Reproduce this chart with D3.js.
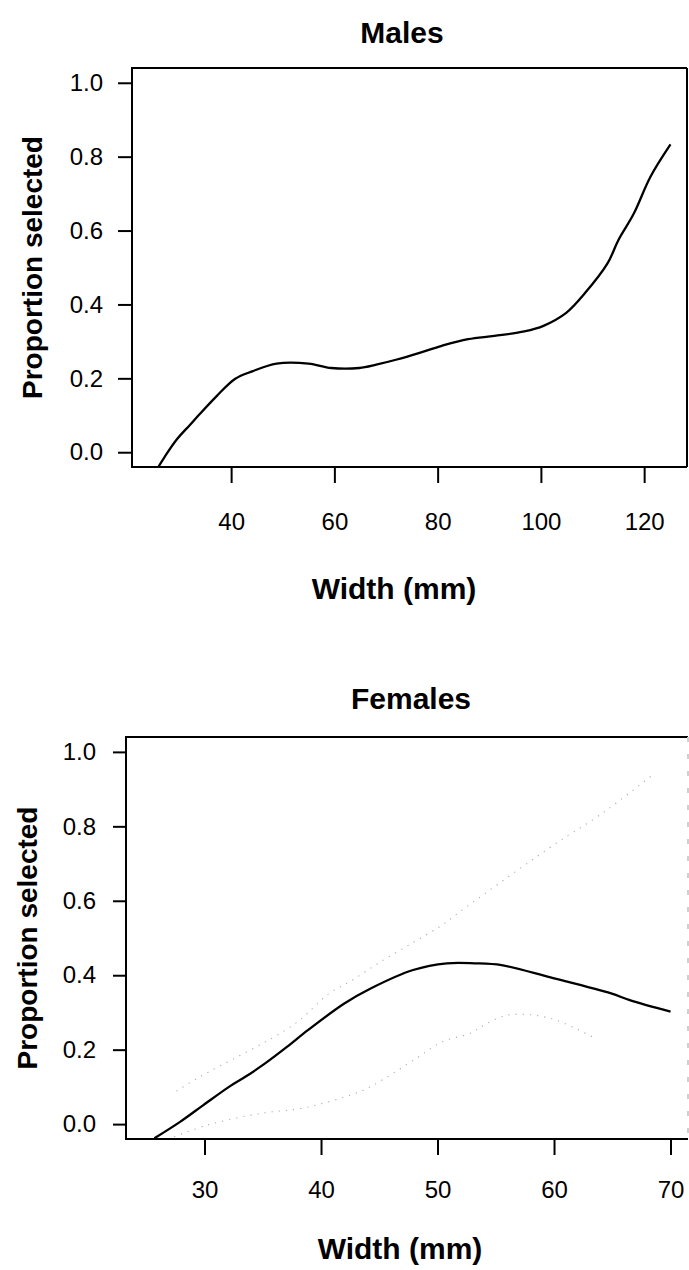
<!DOCTYPE html>
<html><head><meta charset="utf-8">
<script src="https://cdn.jsdelivr.net/npm/d3@7/dist/d3.min.js"></script>
<style>
html,body{margin:0;padding:0;background:#fff;}
svg{display:block;}
text{font-family:"Liberation Sans",Arial,sans-serif;fill:#000;}
</style></head>
<body>
<svg id="c" width="689" height="1270"></svg>
<script>
// ---- data ----
const panelTitles = ["Males", "Females"];
const xTitle = "Width (mm)";
const yTitle = "Proportion selected";
const yTicks = [0, 0.2, 0.4, 0.6, 0.8, 1.0];
const maleXTicks = [40, 60, 80, 100, 120];
const femaleXTicks = [30, 40, 50, 60, 70];

const maleWidth = [25.9, 27.1, 29.5, 32.1, 33.7, 37.2, 40.8, 44.1, 48.8, 55.0, 59.4, 64.8, 68.1, 72.1, 76.5, 80.8, 85.9, 91.0, 96.8, 100.5, 104.9, 108.5, 112.9, 115.0, 118.0, 121.2, 125.1];
const maleProp  = [-0.04, -0.013, 0.035, 0.075, 0.10, 0.152, 0.199, 0.219, 0.24, 0.24, 0.228, 0.228, 0.237, 0.251, 0.269, 0.288, 0.306, 0.315, 0.327, 0.342, 0.377, 0.43, 0.511, 0.574, 0.646, 0.745, 0.833];

const femaleWidth = [25.7, 27.9, 29.9, 32.1, 33.5, 35.2, 37.1, 38.9, 42.0, 44.3, 47.9, 50.8, 53.2, 55.5, 59.7, 64.9, 66.5, 70.0];
const femaleProp  = [-0.038, 0.006, 0.051, 0.10, 0.127, 0.163, 0.208, 0.253, 0.324, 0.365, 0.414, 0.432, 0.432, 0.427, 0.394, 0.351, 0.333, 0.302];

const femaleUpperWidth = [27.6, 29.6, 37.6, 40.7, 42.5, 44.9, 47.8, 50.4, 52.5, 60.4, 63.3, 65.4, 68.3];
const femaleUpperProp  = [0.089, 0.127, 0.266, 0.351, 0.383, 0.432, 0.486, 0.535, 0.584, 0.759, 0.817, 0.864, 0.934];

const femaleLowerWidth = [27.4, 30.2, 33.6, 35.8, 38.3, 43.0, 44.5, 48.1, 50.4, 52.9, 54.0, 56.0, 59.6, 63.5];
const femaleLowerProp  = [-0.034, -0.003, 0.022, 0.033, 0.042, 0.083, 0.105, 0.175, 0.221, 0.245, 0.266, 0.293, 0.285, 0.231];

// ---- layout ----
const svg = d3.select("#c");
const panels = [
  {title: panelTitles[0], left:132, right:687, top:68, bottom:467, xdom:[20.8,128.3], xt:maleXTicks,
   titleX:402, titleY:43, xTitleX:394, xTitleY:599, yTitleX:32, ytickLen:14, ytickPad:15, xtickPad:30,
   rightColor:"#000", rightDash:null,
   main:[maleWidth, maleProp], bands:[]},
  {title: panelTitles[1], left:126, right:688, top:737, bottom:1139, xdom:[23.26,71.5], xt:femaleXTicks,
   titleX:411, titleY:709, xTitleX:400, xTitleY:1259, yTitleX:27, ytickLen:13, ytickPad:17, xtickPad:26,
   rightColor:"#d0d0d0", rightDash:"5,12",
   main:[femaleWidth, femaleProp],
   bands:[[femaleUpperWidth, femaleUpperProp],[femaleLowerWidth, femaleLowerProp]]}
];

panels.forEach((p, i) => {
  const x = d3.scaleLinear().domain(p.xdom).range([p.left, p.right]);
  const y = d3.scaleLinear().domain([-0.04, 1.04]).range([p.bottom, p.top]);
  const g = svg.append("g");

  const clipId = "clip" + i;
  svg.append("defs").append("clipPath").attr("id", clipId)
    .append("rect").attr("x", p.left).attr("y", p.top)
    .attr("width", p.right - p.left).attr("height", p.bottom - p.top);

  // y axis
  const ya = g.append("g").attr("transform", `translate(${p.left},0)`)
    .call(d3.axisLeft(y).tickValues(yTicks).tickFormat(d3.format(".1f"))
      .tickSize(p.ytickLen).tickPadding(p.ytickPad).tickSizeOuter(0));
  ya.select(".domain").remove();
  ya.selectAll("line").attr("stroke", "#000").attr("stroke-width", 2);
  ya.selectAll("text").attr("font-size", 24).attr("font-family", '"Liberation Sans",Arial,sans-serif').attr("fill", "#000");

  // x axis
  const xa = g.append("g").attr("transform", `translate(0,${p.bottom})`)
    .call(d3.axisBottom(x).tickValues(p.xt).tickFormat(d3.format("d"))
      .tickSize(16).tickPadding(p.xtickPad).tickSizeOuter(0));
  xa.select(".domain").remove();
  xa.selectAll("line").attr("stroke", "#000").attr("stroke-width", 2);
  xa.selectAll("text").attr("font-size", 24).attr("font-family", '"Liberation Sans",Arial,sans-serif').attr("fill", "#000");

  // box (left, top, bottom solid; right side as in the reference)
  const box = g.append("g").attr("fill", "none").attr("stroke-width", 2);
  box.append("path").attr("stroke", "#000")
    .attr("d", `M${p.right},${p.top}H${p.left}V${p.bottom}H${p.right}`);
  box.append("line").attr("x1", p.right).attr("x2", p.right).attr("y1", p.top).attr("y2", p.bottom)
    .attr("stroke", p.rightColor).attr("stroke-dasharray", p.rightDash);

  const line = d3.line().x(d => x(d[0])).y(d => y(d[1])).curve(d3.curveCatmullRom.alpha(0.5));

  // bands
  p.bands.forEach(b => {
    const pts = b[0].map((w, k) => [w, b[1][k]]);
    g.append("path").attr("d", line(pts)).attr("clip-path", `url(#${clipId})`)
      .attr("fill", "none").attr("stroke", "#999").attr("stroke-width", 1.1)
      .attr("stroke-dasharray", "1.2,6").attr("opacity", 0.8);
  });

  // main curve
  const mp = p.main[0].map((w, k) => [w, p.main[1][k]]);
  g.append("path").attr("d", line(mp)).attr("clip-path", `url(#${clipId})`)
    .attr("fill", "none").attr("stroke", "#000").attr("stroke-width", 2.3)
    .attr("stroke-linejoin", "round");

  // titles
  g.append("text").attr("x", p.titleX).attr("y", p.titleY).attr("text-anchor", "middle")
    .attr("font-size", 30).attr("font-weight", "bold").text(p.title);
  g.append("text").attr("x", p.xTitleX).attr("y", p.xTitleY).attr("text-anchor", "middle")
    .attr("font-size", 30).attr("font-weight", "bold").text(xTitle);
  const cy = (p.top + p.bottom) / 2;
  g.append("text").attr("transform", `translate(${p.yTitleX},${cy}) rotate(-90)`)
    .attr("dy", "0.35em").attr("text-anchor", "middle")
    .attr("font-size", 28).attr("font-weight", "bold").text(yTitle);
});
</script>
</body></html>
